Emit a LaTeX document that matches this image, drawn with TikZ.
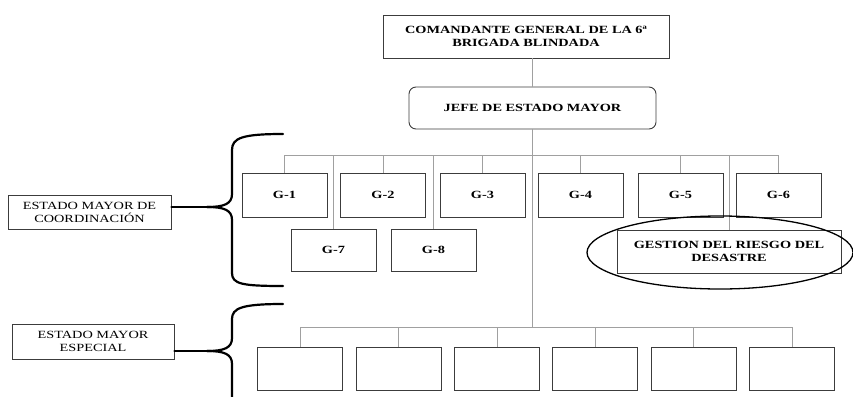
\documentclass[tikz,border=0pt]{standalone}
\usepackage{fontspec}
\setmainfont[FakeStretch=1.3]{Liberation Serif}
\usetikzlibrary{positioning}
\definecolor{boxgray}{HTML}{3C3C3C}
\definecolor{linkgray}{HTML}{A0A0A0}
\tikzset{
	box/.style={draw=boxgray,line width=0.9pt,minimum width=85pt,minimum height=43pt,inner sep=0pt,align=center,font=\fontsize{11}{13}\selectfont\bfseries},
	sidebox/.style={draw=boxgray,line width=0.9pt,inner sep=0pt,align=center,font=\fontsize{11}{13}\selectfont},
	link/.style={draw=linkgray,line width=0.9pt},
	brace/.style={line width=2.2pt,line cap=round}
}
\begin{document}
\begin{tikzpicture}[x=1pt,y=-1pt]
	\useasboundingbox (0,0) rectangle (853,396);
	
	%TOP
	\node[box,minimum width=286pt] (cmd) at (526,36.5) {COMANDANTE GENERAL DE LA 6ª\\BRIGADA BLINDADA};
	\node[box,minimum width=247pt,minimum height=42pt,rounded corners=7pt] (jefe) at (532.5,108) {JEFE DE ESTADO MAYOR};
	\draw[link] (jefe.north) -- (jefe.north |- cmd.south);
	%
	\coordinate (busA) at (532.5,155);	%bus of the G row
	\coordinate (busB) at (532.5,327);	%bus of the bottom row
	\draw[link] (jefe.south) -- (busB);
	
	%G BOXES
	\foreach \i/\x in {1/284.5,2/383,3/482.5,4/580.5,5/680.5,6/778.5} \node[box,minimum height=44pt] (g\i) at (\x,195) {G-\i};
	\node[box,minimum height=42pt] (g7) at (333.5,250) {G-7};
	\node[box,minimum height=42pt] (g8) at (433.5,250) {G-8};
	\foreach \i in {1,...,8} \draw[link] (g\i.north) |- (busA);
	%
	\node[box,minimum width=224pt] (gest) at (729,251.5) {GESTION DEL RIESGO DEL\\DESASTRE};
	\draw[link] (gest.north) |- (busA);
	\draw[line width=1.3pt] (720,252.5) ellipse [x radius=133, y radius=36.5];
	
	%BOTTOM
	\foreach \i/\x in {1/300,2/398.5,3/497,4/595,5/693.5,6/792} {
		\node[box] (b\i) at (\x,368.5) {};
		\draw[link] (b\i.north) |- (busB);
	}
	
	%LEFT
	\node[sidebox,minimum width=163pt,minimum height=34pt] (coord) at (89.5,212) {ESTADO MAYOR DE\\COORDINACIÓN};
	\coordinate (tipA) at (207,207);
	\draw[brace] (283,134) .. controls (242,134) and (232,138) .. (232,150) -- (232,194) .. controls (232,204) and (224,207) .. (tipA);
	\draw[brace] (tipA) .. controls (224,207) and (232,210) .. (232,220) -- (232,273) .. controls (232,284) and (242,286) .. (283,286);
	\draw[brace] (coord.east |- tipA) -- (tipA);
	%
	\node[sidebox,minimum width=162pt,minimum height=35pt] (esp) at (93,341.5) {ESTADO MAYOR\\ESPECIAL};
	\coordinate (tipB) at (207,351);
	\draw[brace] (283,304) .. controls (242,304) and (232,308) .. (232,319) -- (232,338) .. controls (232,348) and (224,351) .. (tipB);
	\draw[brace] (tipB) .. controls (224,351) and (232,354) .. (232,364) -- (232,400);
	\draw[brace] (esp.east |- tipB) -- (tipB);
\end{tikzpicture}
\end{document}
